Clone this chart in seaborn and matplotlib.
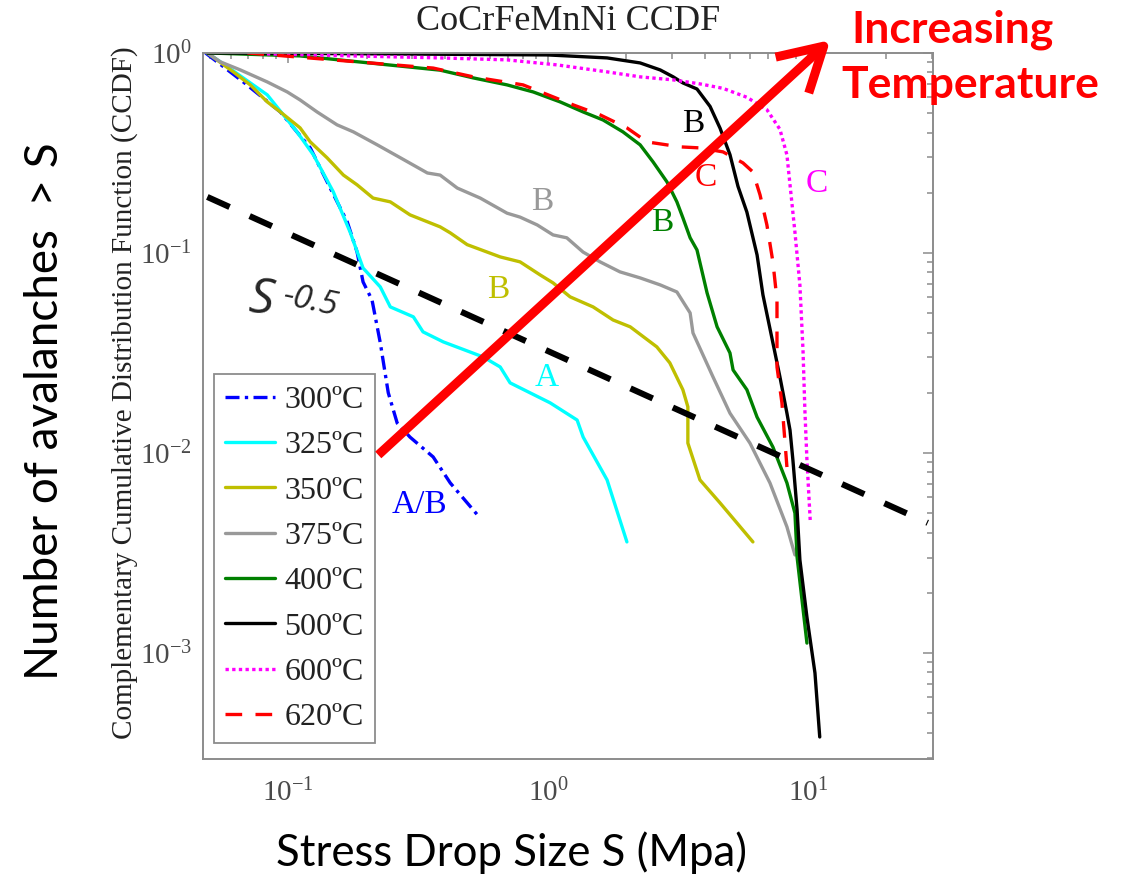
import math
import matplotlib
matplotlib.use("Agg")
import matplotlib.pyplot as plt
import seaborn as sns
from matplotlib.ticker import LogLocator, FuncFormatter, NullFormatter

sns.set_theme(style="white")
plt.rcParams["font.family"] = ["Liberation Serif", "DejaVu Serif"]
plt.rcParams["mathtext.fontset"] = "stix"
plt.rcParams["xtick.labelsize"] = 21
plt.rcParams["ytick.labelsize"] = 21

# ---- CCDF curves: stress drop size S (MPa) and fraction of avalanches > S ----
s_300 = [0.048, 0.0671, 0.0932, 0.1215, 0.145, 0.1686, 0.184, 0.194, 0.210, 0.226,
         0.2425, 0.2625, 0.294, 0.361, 0.420, 0.547]
c_300 = [1.0, 0.716, 0.507, 0.335, 0.211, 0.143, 0.101, 0.0716, 0.0582, 0.0355,
         0.020, 0.0141, 0.0120, 0.00955, 0.00708, 0.00473]

s_325 = [0.0488, 0.0548, 0.083, 0.108, 0.125, 0.149, 0.173, 0.194, 0.226, 0.247,
         0.303, 0.330, 0.395, 0.562, 0.654, 0.714, 1.018, 1.293, 1.364, 1.686, 2.01]
c_325 = [1.0, 0.902, 0.617, 0.403, 0.309, 0.202, 0.127, 0.084, 0.0676, 0.0537,
         0.0479, 0.0403, 0.0359, 0.0302, 0.0269, 0.0224, 0.0178, 0.0146, 0.0120,
         0.00733, 0.00359]

s_350 = [0.0488, 0.0614, 0.0714, 0.083, 0.0932, 0.111, 0.1215, 0.141, 0.163, 0.184,
         0.212, 0.247, 0.294, 0.330, 0.384, 0.420, 0.488, 0.654, 0.780, 0.932,
         1.045, 1.215, 1.49, 1.778, 2.07, 2.62, 2.94, 3.30, 3.45, 3.45, 3.84, 4.59, 6.14]
c_350 = [1.0, 0.804, 0.692, 0.569, 0.507, 0.422, 0.359, 0.299, 0.245, 0.219,
         0.188, 0.180, 0.155, 0.146, 0.135, 0.126, 0.110, 0.0955, 0.0902, 0.0776,
         0.0708, 0.0603, 0.0537, 0.0462, 0.0427, 0.0339, 0.0282, 0.0207, 0.0170,
         0.0112, 0.00733, 0.00562, 0.00359]

s_375 = [0.0488, 0.0548, 0.0654, 0.083, 0.0991, 0.111, 0.129, 0.154, 0.178, 0.22,
         0.27, 0.343, 0.384, 0.447, 0.548, 0.695, 0.78, 0.908, 1.045, 1.18, 1.363,
         1.585, 1.89, 2.26, 2.70, 3.13, 3.52, 3.61, 4.31, 5.01, 5.98, 7.14, 8.30, 8.91]
c_375 = [1.0, 0.902, 0.822, 0.716, 0.638, 0.582, 0.507, 0.437, 0.403, 0.347,
         0.299, 0.251, 0.245, 0.211, 0.188, 0.158, 0.151, 0.138, 0.123, 0.119, 0.101,
         0.0902, 0.0804, 0.075, 0.0692, 0.0638, 0.0501, 0.0398, 0.024, 0.0158,
         0.0112, 0.00708, 0.00427, 0.00309]

s_400 = [0.0488, 0.111, 0.384, 0.515, 0.695, 0.876, 1.112, 1.363, 1.627, 1.94,
         2.26, 2.535, 2.87, 3.13, 3.30, 3.52, 3.74, 4.09, 4.47, 5.01, 5.15, 5.82,
         6.37, 7.33, 8.30, 8.91, 9.08, 9.91]
c_400 = [1.0, 0.966, 0.82, 0.75, 0.692, 0.638, 0.569, 0.507, 0.462, 0.403,
         0.347, 0.285, 0.226, 0.18, 0.15, 0.119, 0.1035, 0.0631, 0.0427, 0.0316,
         0.026, 0.0207, 0.0151, 0.0107, 0.00708, 0.005, 0.00302, 0.00112]

s_500 = [0.0488, 0.2, 0.996, 1.686, 2.26, 2.70, 3.03, 3.30, 3.74, 4.2, 4.59, 5.01,
         5.38, 5.82, 6.37, 6.71, 7.33, 7.8, 8.30, 8.53, 8.75, 9.08, 9.31, 9.91,
         10.64, 11.1]
c_500 = [1.0, 0.99, 0.977, 0.944, 0.891, 0.822, 0.759, 0.708, 0.66, 0.54, 0.42,
         0.31, 0.215, 0.16, 0.0977, 0.0617, 0.0355, 0.024, 0.0158, 0.013, 0.00923,
         0.00519, 0.00292, 0.00151, 0.000794, 0.00038]

s_600 = [0.078, 0.384, 0.695, 1.083, 1.686, 2.26, 3.03, 3.84, 4.71, 5.82, 6.95, 7.8,
         8.30, 8.53, 8.91, 9.31, 9.57, 9.73, 9.91, 10.2]
c_600 = [0.99, 0.944, 0.923, 0.871, 0.804, 0.759, 0.733, 0.70, 0.665, 0.60, 0.52,
         0.415, 0.309, 0.219, 0.127, 0.0692, 0.0327, 0.0164, 0.00923, 0.00462]

s_620 = [0.0696, 0.361, 0.515, 0.801, 1.248, 1.585, 2.01, 2.40, 3.22, 3.84, 4.71,
         5.62, 6.14, 6.54, 6.95, 7.33, 7.6, 7.6, 7.94, 8.30]
c_620 = [1.0, 0.84, 0.759, 0.692, 0.55, 0.49, 0.422, 0.359, 0.339, 0.335, 0.32,
         0.282, 0.254, 0.195, 0.138, 0.0902, 0.0582, 0.0269, 0.0178, 0.0085]

temperatures = ["300ºC", "325ºC", "350ºC", "375ºC", "400ºC", "500ºC", "600ºC", "620ºC"]

# power-law guide line, labelled S^-0.5
guide_s = [0.0488, 28.9]
guide_ccdf = [0.1905, 0.00447]

# arrow showing the direction of increasing temperature
arrow_start = (0.222, 0.00977)
arrow_end = (12.2, 1.16)

# ---- styling ----
series = [
    (s_300, c_300, "#0000ff", (0, (4.2, 1.6, 1.0, 1.6))),
    (s_325, c_325, "#00ffff", "-"),
    (s_350, c_350, "#bfbf00", "-"),
    (s_375, c_375, "#999999", "-"),
    (s_400, c_400, "#008000", "-"),
    (s_500, c_500, "#000000", "-"),
    (s_600, c_600, "#ff00ff", (0, (1.0, 1.0))),
    (s_620, c_620, "#ff0000", (0, (5.0, 4.0))),
]

fig = plt.figure(figsize=(11.22, 8.76), dpi=100)
ax = fig.add_axes([0.181, 0.1336, 0.6506, 0.806])
ax.set_xscale("log")
ax.set_yscale("log")

for (s, c, col, ls), lab in zip(series, temperatures):
    sns.lineplot(x=s, y=c, ax=ax, color=col, linewidth=2.4, linestyle=ls,
                 label=lab, sort=False, estimator=None)

sns.lineplot(x=guide_s, y=guide_ccdf, ax=ax, color="black", linewidth=4.4,
             linestyle=(0, (4.0, 3.6)), sort=False, estimator=None, legend=False)

ax.set_xlim(0.047, 30.3)
ax.set_ylim(2.95e-4, 1)

arrow = ax.annotate("", xy=arrow_end, xytext=arrow_start, xycoords="data",
                    annotation_clip=False,
                    arrowprops=dict(arrowstyle="->,head_length=1.4,head_width=0.8",
                                    color="#ff0000", lw=6.5, mutation_scale=22,
                                    shrinkA=0, shrinkB=0, capstyle="butt"))
arrow.set_zorder(7)

# axes frame and ticks
for sp in ax.spines.values():
    sp.set_color("#8c8c8c")
    sp.set_linewidth(1.4)

ax.xaxis.set_major_locator(LogLocator(base=10, numticks=10))
ax.yaxis.set_major_locator(LogLocator(base=10, numticks=10))
ax.xaxis.set_minor_locator(LogLocator(base=10, subs=range(2, 10), numticks=20))
ax.yaxis.set_minor_locator(LogLocator(base=10, subs=range(2, 10), numticks=20))
fmt = FuncFormatter(lambda v, p: r"$\mathregular{10^{%d}}$" % round(math.log10(v)))
ax.xaxis.set_major_formatter(fmt)
ax.yaxis.set_major_formatter(fmt)
ax.xaxis.set_minor_formatter(NullFormatter())
ax.yaxis.set_minor_formatter(NullFormatter())
ax.tick_params(which="both", direction="in", top=True, right=True,
               color="#8c8c8c", width=1.1)
ax.tick_params(which="major", length=7, labelcolor="#4a4a4a")
ax.tick_params(which="minor", length=4)
ax.tick_params(axis="x", which="major", pad=14)
ax.tick_params(axis="y", which="major", pad=8)

ax.grid(False)

leg = ax.legend(loc="lower left", bbox_to_anchor=(0.015, 0.022), borderaxespad=0,
                frameon=True, fancybox=False, edgecolor="#8c8c8c", framealpha=1,
                prop={"family": "Liberation Serif", "size": 23},
                handlelength=1.55, handletextpad=0.3, labelspacing=0.5,
                borderpad=0.35)
leg.get_frame().set_linewidth(1.3)
leg.set_zorder(6)
for t in leg.get_texts():
    t.set_color("#222222")

# curve regime labels
labels = [
    ("A/B", 0.297, 0.360, "#0000ff"),
    ("A", 0.471, 0.540, "#00ffff"),
    ("B", 0.404, 0.665, "#bfbf00"),
    ("B", 0.464, 0.789, "#999999"),
    ("B", 0.629, 0.759, "#008000"),
    ("B", 0.671, 0.899, "#000000"),
    ("C", 0.689, 0.823, "#ff0000"),
    ("C", 0.840, 0.814, "#ff00ff"),
]
for txt, xf, yf, col in labels:
    ax.text(xf, yf, txt, transform=ax.transAxes, color=col, fontsize=24,
            family="Liberation Serif", ha="center", va="center")

ax.text(0.079, 0.650, "S", transform=ax.transAxes, fontsize=36, style="italic",
        family="Open Sans", ha="center", va="center", rotation=-5)
ax.text(0.147, 0.648, "-0.5", transform=ax.transAxes, fontsize=24, style="italic",
        family="Open Sans", ha="center", va="center", rotation=-12)

# titles and axis labels
fig.text(568 / 1122, 1 - 22 / 876, "CoCrFeMnNi CCDF", ha="center", va="center",
         fontsize=26, family="Liberation Serif", color="#222222")
fig.text(125 / 1122, 1 - 393 / 876,
         "Complementary Cumulative Distribution Function (CCDF)",
         rotation=90, ha="center", va="center", fontsize=21,
         family="Liberation Serif", color="#222222")
fig.text(45 / 1122, 1 - 411 / 876, "Number of avalanches  > S", rotation=90,
         ha="center", va="center", fontsize=33, family="Lato", color="black")
fig.text(512 / 1122, 1 - 853 / 876, "Stress Drop Size S (Mpa)", ha="center",
         va="center", fontsize=31.5, family="Lato", color="black")
fig.text(851 / 1122, 1 - 30 / 876, "Increasing", ha="left", va="center",
         fontsize=32, family="Lato", weight="bold", color="#ff0000")
fig.text(841 / 1122, 1 - 85 / 876, "Temperature", ha="left", va="center",
         fontsize=32, family="Lato", weight="bold", color="#ff0000")

fig.savefig("out.png", dpi=100, facecolor="white")
